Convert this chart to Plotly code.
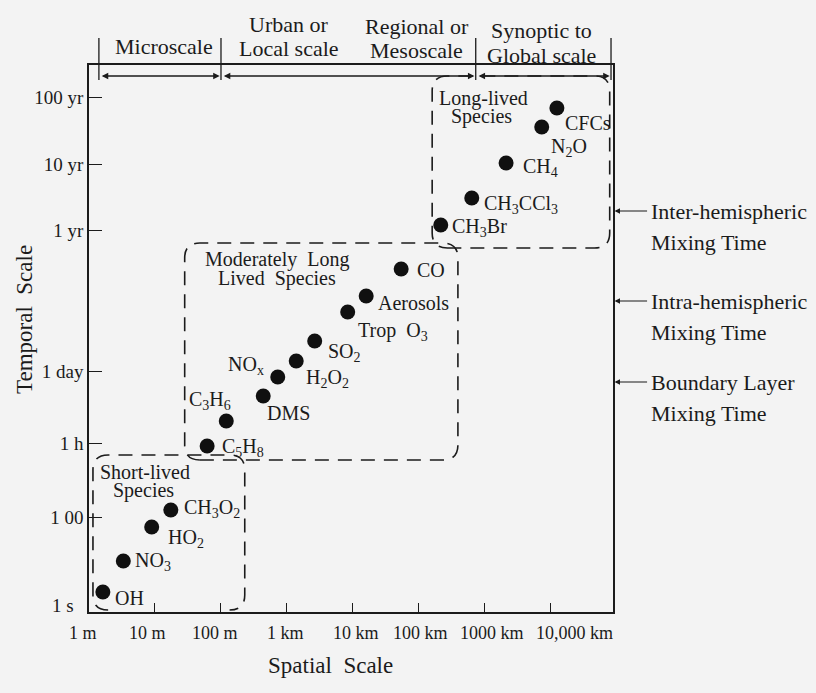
import plotly.graph_objects as go

# ---------------- data ----------------
# spatial scale: decades of metres (0 = 1 m ... 7 = 10,000 km)
# temporal scale: schematic axis units (ticks listed below)
species = ["OH", "NO3", "HO2", "CH3O2", "C5H8", "C3H6", "DMS", "NOx", "H2O2",
           "SO2", "Trop O3", "Aerosols", "CO", "CH3Br", "CH3CCl3", "CH4", "N2O", "CFCs"]
species_text = ["OH", "NO<sub>3</sub>", "HO<sub>2</sub>", "CH<sub>3</sub>O<sub>2</sub>",
                "C<sub>5</sub>H<sub>8</sub>", "C<sub>3</sub>H<sub>6</sub>", "DMS", "NO<sub>x</sub>",
                "H<sub>2</sub>O<sub>2</sub>", "SO<sub>2</sub>", "Trop  O<sub>3</sub>", "Aerosols", "CO",
                "CH<sub>3</sub>Br", "CH<sub>3</sub>CCl<sub>3</sub>", "CH<sub>4</sub>", "N<sub>2</sub>O", "CFCs"]
spatial = [0.21, 0.52, 0.95, 1.24, 1.79, 2.08, 2.64, 2.86, 3.14,
           3.42, 3.92, 4.20, 4.73, 5.33, 5.80, 6.32, 6.86, 7.09]
temporal = [2.0, 5.1, 8.5, 10.2, 16.6, 19.1, 21.6, 23.5, 25.1,
            27.1, 30.0, 31.6, 34.3, 38.7, 41.4, 44.9, 48.5, 50.4]

x_tick_vals = [1, 2, 3, 4, 5, 6, 7]
x_tick_labels = ["1 m", "10 m", "100 m", "1 km", "10 km", "100 km", "1000 km", "10,000 km"]
x_label_pos = [-0.09, 0.89, 1.91, 2.97, 4.05, 5.02, 6.11, 7.36]

y_tick_labels = ["1 00", "1 h", "1 day", "1 yr", "10 yr", "100 yr"]
y_tick_pos = [9.5, 16.9, 24.1, 38.2, 44.8, 51.5]
y_bottom_label = "1 s"
y_bottom_pos = 0.7

scale_names = ["Microscale", "Urban or<br>Local scale", "Regional or<br>Mesoscale", "Synoptic to<br>Global scale"]
scale_bounds = [0.15, 2.0, 5.86, 7.91]

groups = ["Short-lived", "Moderately Long", "Long-lived"]
group_x0 = [0.06, 1.45, 5.20]
group_x1 = [2.36, 5.59, 7.89]
group_y0 = [0.2, 15.2, 36.4]
group_y1 = [15.7, 36.9, 53.6]

mixing_names = ["Inter-hemispheric", "Intra-hemispheric", "Boundary Layer"]
mixing_y = [40.1, 31.1, 23.0]

# ---------------- layout constants ----------------
XR = [0, 7.94]
YR = [0, 54.7]
INK = "#1b1b1b"
BG = "#f3f3f3"
FONT = "Liberation Serif"

# label offsets (pixels): (xanchor, dx, dy_down)
label_style = [("left", 10, 6), ("left", 10, 0), ("left", 14, 11), ("left", 11, -2),
               ("left", 13, 1), ("center", -16, -21), ("center", 25, 17), ("right", -12, -12),
               ("left", 8, 17), ("left", 11, 11), ("left", 8, 19), ("left", 10, 7),
               ("left", 14, 1), ("left", 9, 2), ("left", 10, 6), ("left", 15, 4),
               ("left", 7, 20), ("left", 6, 15)]


def px(x):
    return (x - XR[0]) / (XR[1] - XR[0])


def py(y):
    return (y - YR[0]) / (YR[1] - YR[0])


def rounded(x0, x1, y0, y1, rx, ry, open_bottom=False):
    if open_bottom:
        return (f"M {x0+rx},{y0} Q {x0},{y0} {x0},{y0+ry} L {x0},{y1-ry} Q {x0},{y1} {x0+rx},{y1} "
                f"L {x1-rx},{y1} Q {x1},{y1} {x1},{y1-ry} L {x1},{y0+ry} Q {x1},{y0} {x1-rx},{y0}")
    return (f"M {x0+rx},{y0} L {x1-rx},{y0} Q {x1},{y0} {x1},{y0+ry} L {x1},{y1-ry} "
            f"Q {x1},{y1} {x1-rx},{y1} L {x0+rx},{y1} Q {x0},{y1} {x0},{y1-ry} "
            f"L {x0},{y0+ry} Q {x0},{y0} {x0+rx},{y0} Z")


def txt(x, y, t, size, anchor="center", **kw):
    d = dict(x=x, y=y, xref="paper", yref="paper", text=t, showarrow=False,
             xanchor=anchor, yanchor="middle", font=dict(family=FONT, size=size, color=INK))
    d.update(kw)
    return d


fig = go.Figure()
fig.add_trace(go.Scatter(x=spatial, y=temporal, mode="markers",
                         marker=dict(size=15, color="#101010"),
                         hoverinfo="skip", showlegend=False))

ann = []
for t, x, y, (anc, dx, dy) in zip(species_text, spatial, temporal, label_style):
    ann.append(dict(x=x, y=y, xref="x", yref="y", text=t, showarrow=False,
                    xanchor=anc, yanchor="middle", xshift=dx, yshift=-dy,
                    font=dict(family=FONT, size=20, color=INK)))

# x tick labels (paper coordinates so they are not hidden outside the range)
for t, x in zip(x_tick_labels, x_label_pos):
    ann.append(txt(px(x), py(-2.1), t, 18))
ann.append(txt(-0.025, py(y_bottom_pos), y_bottom_label, 19, anchor="right"))

# group labels
group_lines = [("Short-lived", 0.85, 14.0), ("Species", 0.83, 12.2),
               ("Moderately  Long", 2.85, 35.3), ("Lived  Species", 2.85, 33.4),
               ("Long-lived", 5.98, 51.4), ("Species", 5.95, 49.6)]
for t, x, y in group_lines:
    ann.append(dict(x=x, y=y, xref="x", yref="y", text=t, showarrow=False,
                    xanchor="center", yanchor="middle",
                    font=dict(family=FONT, size=20, color=INK)))

# scale header labels
header_pos = [(1.14, 56.5, None), (3.03, 56.4, 58.7), (4.97, 56.2, 58.6), (6.85, 55.6, 58.2)]
for name, (x, y2, y1) in zip(scale_names, header_pos):
    parts = name.split("<br>")
    if len(parts) == 1:
        ann.append(txt(px(x), py(y2), parts[0], 22))
    else:
        ann.append(txt(px(x), py(y1), parts[0], 22))
        ann.append(txt(px(x), py(y2), parts[1], 22))

# scale arrows
arrow_y = 53.6
for a, b in zip(scale_bounds[:-1], scale_bounds[1:]):
    ann.append(dict(x=b - 0.02, y=arrow_y, ax=a + 0.02, ay=arrow_y, xref="x", yref="y",
                    axref="x", ayref="y", text="", showarrow=True,
                    arrowhead=2, startarrowhead=2, arrowside="end+start",
                    arrowsize=1, arrowwidth=1.3, arrowcolor=INK, standoff=0, startstandoff=0))

# mixing time labels
for name, y in zip(mixing_names, mixing_y):
    ann.append(dict(x=1.003, y=py(y), xref="paper", yref="paper", ax=34, ay=0, text="",
                    showarrow=True, arrowhead=2, arrowsize=0.9, arrowwidth=1.2,
                    arrowcolor=INK, standoff=0))
    ann.append(txt(1.069, py(y), name, 22, anchor="left"))
    ann.append(txt(1.069, py(y - 3.1), "Mixing Time", 22, anchor="left"))

# axis titles
ann.append(txt(-0.122, 0.534, "Temporal  Scale", 23, textangle=-90))
ann.append(txt(0.46, -0.097, "Spatial  Scale", 23))

shapes = []
rx, ry = 0.23, 1.5
for i in range(3):
    shapes.append(dict(type="path", xref="x", yref="y",
                       path=rounded(group_x0[i], group_x1[i], group_y0[i], group_y1[i], rx, ry,
                                    open_bottom=(i == 0)),
                       line=dict(color=INK, width=1.6, dash="14px,9px")))
# divider ticks above the frame
for b in scale_bounds:
    shapes.append(dict(type="line", xref="paper", yref="paper", x0=px(b), x1=px(b),
                       y0=py(53.2), y1=py(57.4), line=dict(color=INK, width=1.3)))

fig.update_layout(
    width=816, height=693,
    margin=dict(l=89, r=203, t=65, b=81),
    paper_bgcolor=BG, plot_bgcolor=BG,
    annotations=ann, shapes=shapes, showlegend=False,
    xaxis=dict(range=XR, showline=True, linecolor=INK, linewidth=1.6, mirror=True,
               ticks="inside", ticklen=9, tickwidth=1.4, tickcolor=INK,
               tickvals=x_tick_vals, showticklabels=False, showgrid=False, zeroline=False),
    yaxis=dict(range=YR, showline=True, linecolor=INK, linewidth=1.6, mirror=True,
               ticks="inside", ticklen=13, tickwidth=1.4, tickcolor=INK,
               tickvals=y_tick_pos, ticktext=y_tick_labels,
               tickfont=dict(family=FONT, size=19, color=INK),
               showgrid=False, zeroline=False),
)

fig.write_html("out.html")
